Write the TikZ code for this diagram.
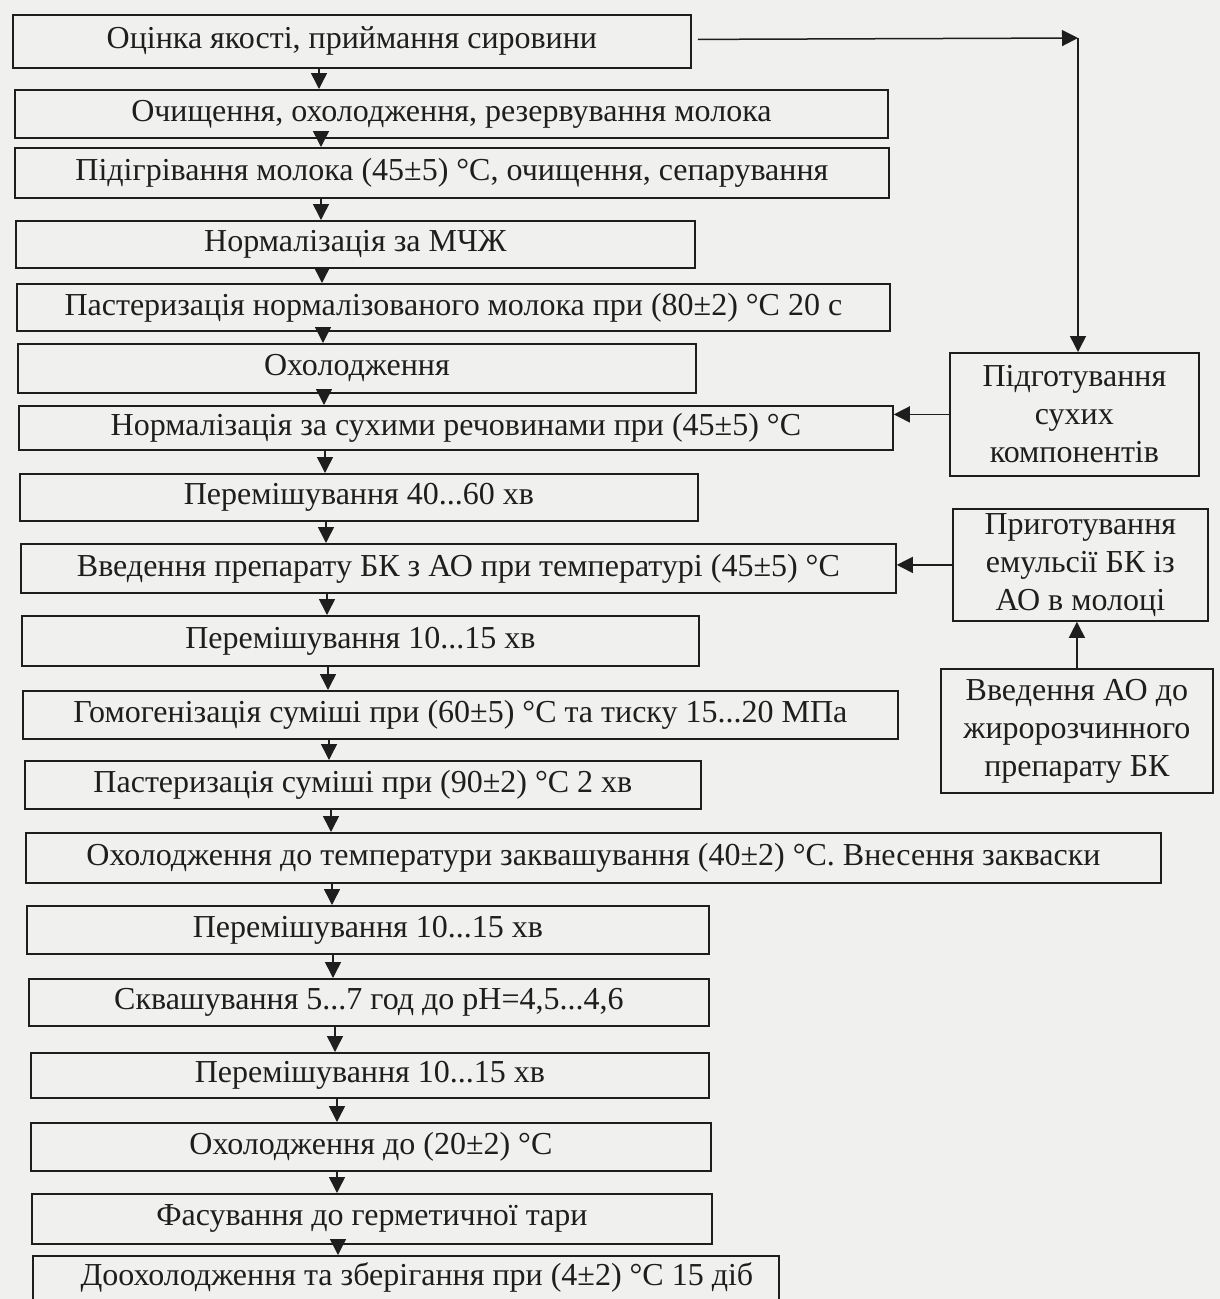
\documentclass[tikz,border=0pt]{standalone}
\usepackage{fontspec}
\setmainfont{Liberation Serif}
\usepackage{tikz}
\usetikzlibrary{arrows.meta, positioning, calc}
\usepackage{xcolor}
\definecolor{paper}{RGB}{240,240,238}
\definecolor{ink}{RGB}{30,30,30}

\begin{document}
\begin{tikzpicture}[x=1pt, y=-1pt,
  stage/.style={draw=ink, line width=1.8pt, rectangle, anchor=north west, inner sep=0pt, minimum height=48pt, text=ink, font=\fontsize{32}{38}\selectfont},
  side/.style={stage, align=center},
  arr/.style={-{Triangle[width=16pt,length=16pt]}, draw=ink, fill=ink, line width=1.5pt}]

  \fill[paper] (0,0) rectangle (1220,1299);
  \useasboundingbox (0,0) rectangle (1220,1299);

  \node[stage, minimum width=678pt, minimum height=53pt] (qual) at (12,14) {Оцінка якості, приймання сировини};

  \node[stage, minimum width=873pt] (clean) at (14,89) {Очищення, охолодження, резервування молока};

  \node[stage, minimum width=874pt, minimum height=50pt] (heat) at (14,147) {Підігрівання молока (45±5) °C, очищення, сепарування};

  \node[stage, minimum width=679pt, minimum height=47pt] (norm) at (15,220) {Нормалізація за МЧЖ};

  \node[stage, minimum width=873pt, minimum height=47pt] (past) at (16,283) {Пастеризація нормалізованого молока при (80±2) °C 20 с};

  \node[stage, minimum width=678pt, minimum height=49pt] (cool) at (17,343) {Охолодження};

  \node[stage, minimum width=874pt, minimum height=44pt] (normdry) at (18,405) {Нормалізація за сухими речовинами при (45±5) °C};

  \node[stage, minimum width=678pt, minimum height=47pt] (mixa) at (19,473) {Перемішування 40...60 хв};

  \node[stage, minimum width=875pt, minimum height=49pt] (bk) at (20,543) {Введення препарату БК з АО при температурі (45±5) °C};

  \node[stage, minimum width=677pt, minimum height=50pt] (mixb) at (21,615) {Перемішування 10...15 хв};

  \node[stage, minimum width=875pt] (homog) at (22,690) {Гомогенізація суміші при (60±5) °C та тиску 15...20 МПа};

  \node[stage, minimum width=676pt] (pastmix) at (24,760) {Пастеризація суміші при (90±2) °C 2 хв};

  \node[stage, minimum width=1135pt, minimum height=50pt] (ferm) at (25,832) {Охолодження до температури заквашування (40±2) °C. Внесення закваски};

  \node[stage, minimum width=682pt] (mixc) at (26,905) {Перемішування 10...15 хв};

  \node[stage, minimum width=680pt, minimum height=47pt] (sour) at (28,978) {Сквашування 5...7 год до pH=4,5...4,6};

  \node[stage, minimum width=678pt, minimum height=45pt] (mixd) at (30,1052) {Перемішування 10...15 хв};

  \node[stage, minimum width=680pt] (coolb) at (30,1122) {Охолодження до (20±2) °C};

  \node[stage, minimum width=680pt, minimum height=50pt] (pack) at (31,1193) {Фасування до герметичної тари};

  \node[stage, minimum width=746pt, minimum height=44pt] (store) at (32,1255) {\hspace*{22pt}Доохолодження та зберігання при (4±2) °C 15 діб};

  \node[side, minimum width=249pt, minimum height=123pt] (dry) at (949,352) {Підготування\\сухих\\компонентів};

  \node[side, minimum width=255pt, minimum height=112pt] (emul) at (952,508) {Приготування\\емульсії БК із\\АО в молоці};

  \node[side, minimum width=272pt, minimum height=124pt] (ao) at (940,668) {Введення АО до\\жиророзчинного\\препарату БК};

  \coordinate (turn) at (1078,38);

  \foreach \a/\b in {qual/clean, clean/heat, heat/norm, norm/past, past/cool, cool/normdry, normdry/mixa, mixa/bk, bk/mixb, mixb/homog, homog/pastmix, pastmix/ferm, ferm/mixc, mixc/sour, sour/mixd, mixd/coolb, coolb/pack, pack/store}
    \draw[arr] ($(\a.south west)+(307,0)$) -- ($(\a.south west |- \b.north)+(307,0)$);

  \draw[arr] ($(qual.east)+(6,-2)$) -- (turn);
  \draw[arr] (turn) -- (turn |- dry.north);
  \draw[arr] (dry.west) -- (dry.west -| normdry.east);
  \draw[arr] (emul.west) -- (emul.west -| bk.east);
  \draw[arr] (ao.north) -- (ao.north |- emul.south);
\end{tikzpicture}
\end{document}
